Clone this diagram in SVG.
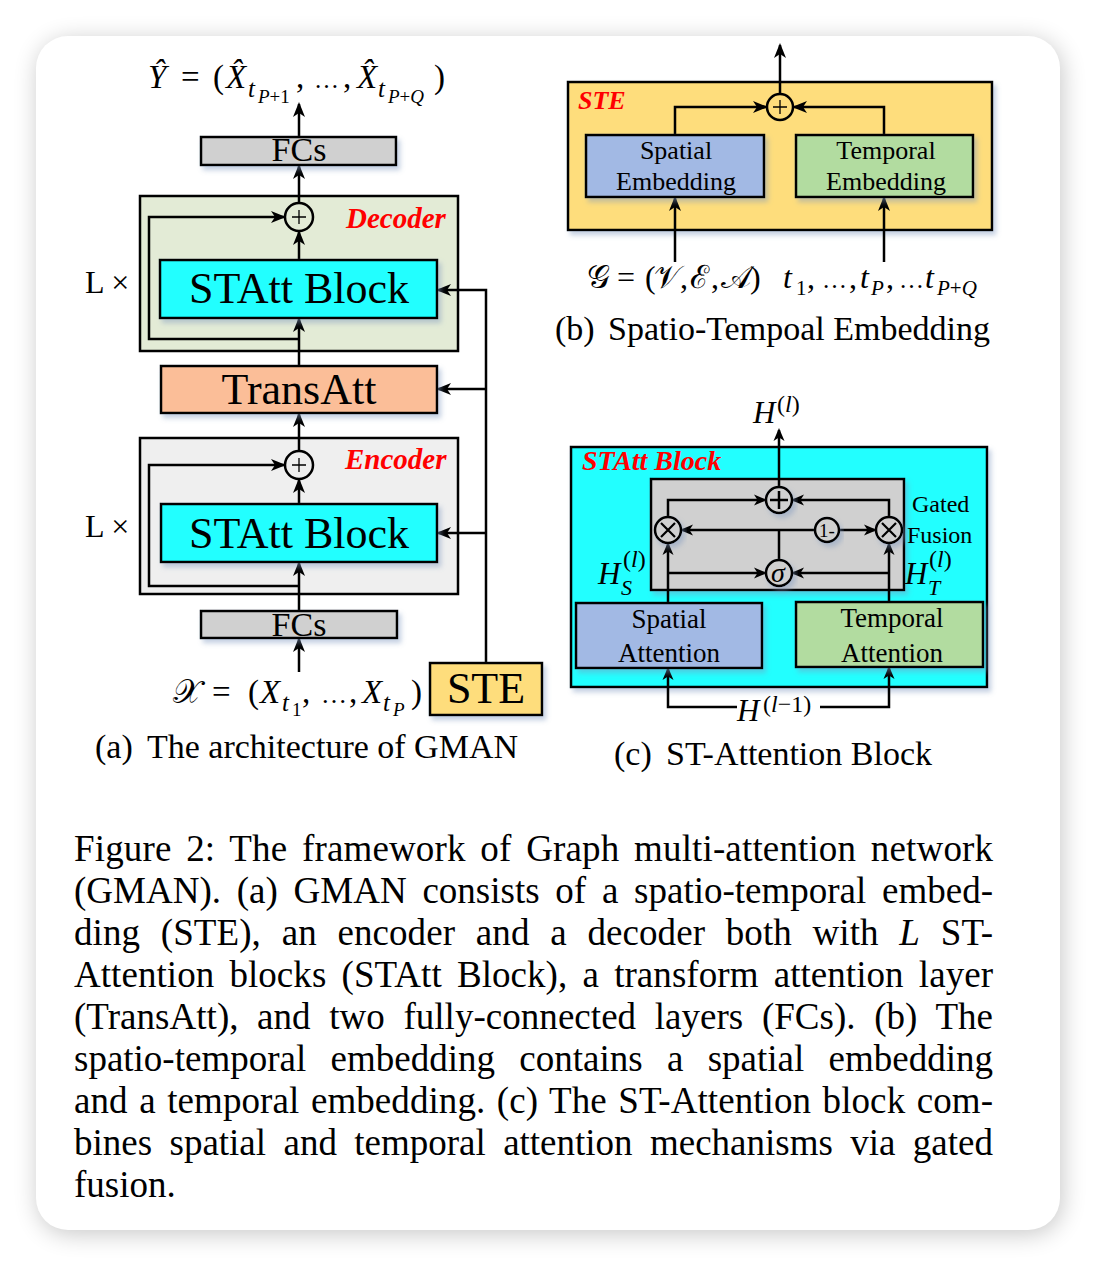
<svg xmlns="http://www.w3.org/2000/svg" width="1096" height="1266" viewBox="0 0 1096 1266">
<style>
text{font-family:"Liberation Serif","Times New Roman",serif;fill:#000}
.mi{font-style:italic}
.red{fill:#ff0000;font-weight:bold;font-style:italic}
.box{stroke:#000;stroke-width:2.5}
.ln{fill:none;stroke:#000;stroke-width:2.5}
.cap{font-size:37px}
.sub{font-size:34px}
</style>
<defs>
<filter id="card" x="-10%" y="-10%" width="120%" height="120%"><feGaussianBlur stdDeviation="12"/></filter>
<filter id="sh" x="-20%" y="-30%" width="140%" height="170%"><feDropShadow dx="3" dy="4" stdDeviation="2.5" flood-color="#7f98c0" flood-opacity="0.45"/></filter>
<marker id="ah" markerUnits="userSpaceOnUse" markerWidth="16" markerHeight="14" refX="13" refY="7" orient="auto"><path d="M0,1 L15,7 L0,13 L4,7 z" fill="#000"/></marker>
<marker id="as" markerUnits="userSpaceOnUse" markerWidth="14" markerHeight="12" refX="11" refY="6" orient="auto"><path d="M0,0.5 L13,6 L0,11.5 L3.5,6 z" fill="#000"/></marker>
</defs>
<rect width="1096" height="1266" fill="#fff"/>
<rect x="38" y="40" width="1024" height="1194" rx="32" fill="#000" opacity="0.22" filter="url(#card)"/>
<rect x="36" y="36" width="1024" height="1194" rx="32" fill="#fff"/>

<!-- containers -->
<g id="decoder"><rect class="box" x="140" y="196" width="318" height="155" fill="#e3ebd6"/><text class="red" x="346" y="228" font-size="29">Decoder</text></g>
<g id="encoder"><rect class="box" x="140" y="438" width="318" height="156" fill="#efefef"/><text class="red" x="345" y="469" font-size="29">Encoder</text></g>
<g id="ste-b"><rect class="box" x="568" y="82" width="424" height="148" fill="#fedd7c" filter="url(#sh)"/><text class="red" x="578" y="109" font-size="26">STE</text></g>
<g id="statt-c"><rect class="box" x="571" y="447" width="416" height="240" fill="#22ffff" filter="url(#sh)"/><text class="red" x="582" y="470" font-size="28">STAtt Block</text></g>
<g id="gated-fusion"><rect class="box" x="651" y="479" width="253" height="111" fill="#d0d0d0" filter="url(#sh)"/><text x="912" y="512" font-size="24">Gated</text><text x="907" y="543" font-size="24">Fusion</text></g>

<g id="connectors">
<!-- (a) -->
<path class="ln" d="M299,137 V104" marker-end="url(#ah)"/>
<path class="ln" d="M299,203 V166" marker-end="url(#ah)"/>
<path class="ln" d="M299,260 V232" marker-end="url(#ah)"/>
<path class="ln" d="M299,339 H149 V217 H284" marker-end="url(#ah)"/>
<path class="ln" d="M299,366 V319" marker-end="url(#ah)"/>
<path class="ln" d="M299,451 V414" marker-end="url(#ah)"/>
<path class="ln" d="M299,504 V480" marker-end="url(#ah)"/>
<path class="ln" d="M299,586 H149 V465 H284" marker-end="url(#ah)"/>
<path class="ln" d="M299,611 V563" marker-end="url(#ah)"/>
<path class="ln" d="M299,672 V639" marker-end="url(#ah)"/>
<path class="ln" d="M486,663 V290 H438" marker-end="url(#ah)"/>
<path class="ln" d="M486,389 H438" marker-end="url(#ah)"/>
<path class="ln" d="M486,533 H438" marker-end="url(#ah)"/>
<!-- (b) -->
<path class="ln" d="M780,94 V45" marker-end="url(#ah)"/>
<path class="ln" d="M675,135 V107 H766" marker-end="url(#ah)"/>
<path class="ln" d="M884,135 V107 H794" marker-end="url(#ah)"/>
<path class="ln" d="M675,262 V198" marker-end="url(#ah)"/>
<path class="ln" d="M884,262 V198" marker-end="url(#ah)"/>
<!-- (c) -->
<path class="ln" d="M779,487 V430" marker-end="url(#as)"/>
<path class="ln" d="M668,517 V500 H765" marker-end="url(#as)"/>
<path class="ln" d="M889,517 V500 H793" marker-end="url(#as)"/>
<path class="ln" d="M779,560 V530"/>
<path class="ln" d="M815,530 H682" marker-end="url(#as)"/>
<path class="ln" d="M839,530 H875" marker-end="url(#as)"/>
<path class="ln" d="M668,603 V544" marker-end="url(#as)"/>
<path class="ln" d="M668,573 H765" marker-end="url(#as)"/>
<path class="ln" d="M889,602 V544" marker-end="url(#as)"/>
<path class="ln" d="M889,573 H793" marker-end="url(#as)"/>
<path class="ln" d="M737,707 H668 V669" marker-end="url(#as)"/>
<path class="ln" d="M820,707 H889 V668" marker-end="url(#as)"/>
</g>

<!-- (a) nodes -->
<g id="fcs-top"><rect class="box" x="201" y="137" width="195" height="28" fill="#d0d0d0" filter="url(#sh)"/><text x="299" y="161" font-size="34" text-anchor="middle">FCs</text></g>
<g id="dec-plus"><circle class="box" cx="299" cy="217" r="14" fill="none" stroke-width="2"/><path d="M292,217 H306 M299,210 V224" stroke="#000" stroke-width="1.3"/></g>
<g id="dec-statt"><rect class="box" x="160" y="260" width="277" height="58" fill="#22ffff" filter="url(#sh)"/><text x="299" y="303" font-size="44" text-anchor="middle">STAtt Block</text></g>
<g id="transatt"><rect class="box" x="161" y="366" width="276" height="47" fill="#fbbe98" filter="url(#sh)"/><text x="299" y="404" font-size="44" text-anchor="middle">TransAtt</text></g>
<g id="enc-plus"><circle class="box" cx="299" cy="465" r="14" fill="none" stroke-width="2"/><path d="M292,465 H306 M299,458 V472" stroke="#000" stroke-width="1.3"/></g>
<g id="enc-statt"><rect class="box" x="161" y="504" width="276" height="58" fill="#22ffff" filter="url(#sh)"/><text x="299" y="548" font-size="44" text-anchor="middle">STAtt Block</text></g>
<g id="fcs-bottom"><rect class="box" x="201" y="611" width="196" height="27" fill="#d0d0d0" filter="url(#sh)"/><text x="299" y="636" font-size="34" text-anchor="middle">FCs</text></g>
<g id="ste-a"><rect class="box" x="430" y="663" width="112" height="52" fill="#fedd7c" filter="url(#sh)"/><text x="486" y="703" font-size="44" text-anchor="middle">STE</text></g>
<text x="85" y="293" font-size="32">L ×</text>
<text x="85" y="537" font-size="32">L ×</text>

<!-- output formula -->
<g id="out-formula" font-size="33">
<text class="mi" x="148" y="88">Ŷ</text>
<text x="181" y="88">=</text>
<text x="213" y="88">(</text>
<text class="mi" x="226" y="88">X̂</text>
<text class="mi" x="248" y="97" font-size="25">t</text>
<text class="mi" x="258" y="103" font-size="19">P<tspan font-style="normal">+1</tspan></text>
<text x="296" y="88">,</text>
<text x="314" y="88" font-size="25">…</text>
<text x="343" y="88">,</text>
<text class="mi" x="357" y="88">X̂</text>
<text class="mi" x="378" y="97" font-size="25">t</text>
<text class="mi" x="388" y="103" font-size="19">P<tspan font-style="normal">+</tspan>Q</text>
<text x="434" y="88">)</text>
</g>
<!-- input formula -->
<g id="in-formula" font-size="33">
<text x="173" y="703">𝒳</text>
<text x="212" y="703">=</text>
<text x="248" y="703">(</text>
<text class="mi" x="260" y="703">X</text>
<text class="mi" x="282" y="711" font-size="25">t</text>
<text x="292" y="716" font-size="19">1</text>
<text x="302" y="703">,</text>
<text x="321" y="703" font-size="26">…</text>
<text x="349" y="703">,</text>
<text class="mi" x="362" y="703">X</text>
<text class="mi" x="383" y="711" font-size="25">t</text>
<text class="mi" x="393" y="716" font-size="19">P</text>
<text x="411" y="703">)</text>
</g>
<text class="sub" x="95" y="758">(a)</text>
<text class="sub" x="147" y="758">The architecture of GMAN</text>

<!-- (b) nodes -->
<g id="ste-plus"><circle class="box" cx="780" cy="107" r="13" fill="#fedd7c" stroke-width="2"/><path d="M773,107 H787 M780,100 V114" stroke="#000" stroke-width="1.3"/></g>
<g id="spatial-emb"><rect class="box" x="586" y="135" width="178" height="62" fill="#a2b9e4" filter="url(#sh)"/><text x="676" y="159" font-size="26" text-anchor="middle">Spatial</text><text x="676" y="190" font-size="26" text-anchor="middle">Embedding</text></g>
<g id="temporal-emb"><rect class="box" x="796" y="135" width="177" height="62" fill="#b2dca0" filter="url(#sh)"/><text x="886" y="159" font-size="26" text-anchor="middle">Temporal</text><text x="886" y="190" font-size="26" text-anchor="middle">Embedding</text></g>
<g id="g-formula" font-size="32">
<text x="587" y="288">𝒢</text>
<text x="617" y="288">=</text>
<text x="645" y="288">(</text>
<text x="654" y="288">𝒱</text>
<text x="680" y="288">,</text>
<text x="690" y="288">ℰ</text>
<text x="711" y="288">,</text>
<text x="721" y="288">𝒜</text>
<text x="750" y="288">)</text>
<text class="mi" x="783" y="288">t</text>
<text x="796" y="295" font-size="21">1</text>
<text x="807" y="288">,</text>
<text x="822" y="288" font-size="25">…</text>
<text x="849" y="288">,</text>
<text class="mi" x="860" y="288">t</text>
<text class="mi" x="871" y="295" font-size="21">P</text>
<text x="886" y="288">,</text>
<text x="899" y="288" font-size="25">…</text>
<text class="mi" x="925" y="288">t</text>
<text class="mi" x="937" y="295" font-size="21">P<tspan font-style="normal">+</tspan>Q</text>
</g>
<text class="sub" x="555" y="340">(b)</text>
<text class="sub" x="608" y="340">Spatio-Tempoal Embedding</text>

<!-- (c) nodes -->
<g id="c-plus"><circle class="box" cx="779" cy="500" r="13" fill="#d0d0d0" filter="url(#sh)"/><path d="M770,500 H788 M779,491 V509" stroke="#000" stroke-width="2.5"/></g>
<g id="c-mul-left"><circle class="box" cx="668" cy="530" r="13" fill="#d0d0d0" filter="url(#sh)"/><path d="M661,523 L675,537 M675,523 L661,537" stroke="#000" stroke-width="2.2"/></g>
<g id="c-mul-right"><circle class="box" cx="889" cy="530" r="13" fill="#d0d0d0" filter="url(#sh)"/><path d="M882,523 L896,537 M896,523 L882,537" stroke="#000" stroke-width="2.2"/></g>
<g id="c-one-minus"><circle class="box" cx="827" cy="530" r="12" fill="#d0d0d0" stroke-width="2" filter="url(#sh)"/><text x="827" y="537" font-size="19" text-anchor="middle">1-</text></g>
<g id="c-sigma"><circle class="box" cx="779" cy="573" r="13" fill="#d0d0d0" filter="url(#sh)"/><text class="mi" x="778" y="582" font-size="28" text-anchor="middle">σ</text></g>
<g id="spatial-att"><rect class="box" x="576" y="603" width="186" height="65" fill="#a2b9e4" filter="url(#sh)"/><text x="669" y="628" font-size="27" text-anchor="middle">Spatial</text><text x="669" y="662" font-size="27" text-anchor="middle">Attention</text></g>
<g id="temporal-att"><rect class="box" x="796" y="602" width="187" height="65" fill="#b2dca0" filter="url(#sh)"/><text x="892" y="627" font-size="27" text-anchor="middle">Temporal</text><text x="892" y="662" font-size="27" text-anchor="middle">Attention</text></g>
<g id="c-labels">
<text class="mi" x="753" y="423" font-size="31">H</text><text x="777" y="412" font-size="24">(<tspan font-style="italic">l</tspan>)</text>
<text class="mi" x="598" y="584" font-size="31">H</text><text x="623" y="567" font-size="24">(<tspan font-style="italic">l</tspan>)</text><text class="mi" x="621" y="595" font-size="22">S</text>
<text class="mi" x="905" y="584" font-size="31">H</text><text x="929" y="567" font-size="24">(<tspan font-style="italic">l</tspan>)</text><text class="mi" x="928" y="595" font-size="22">T</text>
<text class="mi" x="737" y="721" font-size="31">H</text><text x="763" y="712" font-size="24">(<tspan font-style="italic">l</tspan>−1)</text>
</g>
<text class="sub" x="614" y="765">(c)</text>
<text class="sub" x="666" y="765">ST-Attention Block</text>

<!-- caption -->
<g id="caption" class="cap">
<text x="74" y="861" word-spacing="5.3" textLength="919" lengthAdjust="spacing">Figure 2: The framework of Graph multi-attention network</text>
<text x="74" y="903" word-spacing="6.5" textLength="919" lengthAdjust="spacing">(GMAN). (a) GMAN consists of a spatio-temporal embed-</text>
<text x="74" y="945" word-spacing="11.4" textLength="919" lengthAdjust="spacing">ding (STE), an encoder and a decoder both with <tspan font-style="italic">L</tspan> ST-</text>
<text x="74" y="987" word-spacing="5.9" textLength="919" lengthAdjust="spacing">Attention blocks (STAtt Block), a transform attention layer</text>
<text x="74" y="1029" word-spacing="9.3" textLength="919" lengthAdjust="spacing">(TransAtt), and two fully-connected layers (FCs). (b) The</text>
<text x="74" y="1071" word-spacing="15.1" textLength="919" lengthAdjust="spacing">spatio-temporal embedding contains a spatial embedding</text>
<text x="74" y="1113" word-spacing="2.2" textLength="919" lengthAdjust="spacing">and a temporal embedding. (c) The ST-Attention block com-</text>
<text x="74" y="1155" word-spacing="8.1" textLength="919" lengthAdjust="spacing">bines spatial and temporal attention mechanisms via gated</text>
<text x="74" y="1197">fusion.</text>
</g>
</svg>
